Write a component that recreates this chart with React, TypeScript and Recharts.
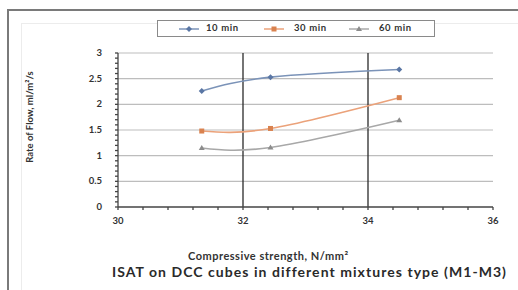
import React from 'react';
import { LineChart, Line, XAxis, YAxis, ReferenceLine, Label } from 'recharts';

const strength = [31.34, 32.44, 34.5];
const flow10 = [2.26, 2.53, 2.68];
const flow30 = [1.48, 1.53, 2.13];
const flow60 = [1.15, 1.16, 1.69];

const xTicks = [30, 30.4, 30.8, 31.2, 31.6, 32, 32.4, 32.8, 33.2, 33.6, 34, 34.4, 34.8, 35.2, 35.6, 36];
const xLabels = [30, 32, 34, 36];
const yTicks = [0, 0.1, 0.2, 0.3, 0.4, 0.5, 0.6, 0.7, 0.8, 0.9, 1, 1.1, 1.2, 1.3, 1.4, 1.5, 1.6, 1.7, 1.8, 1.9, 2, 2.1, 2.2, 2.3, 2.4, 2.5, 2.6, 2.7, 2.8, 2.9, 3];
const yLabels = [0, 0.5, 1, 1.5, 2, 2.5, 3];
const yGrid = [0.5, 1, 1.5, 2, 2.5, 3];
const xGrid = [32, 34];

const seriesNames = ['10 min', '30 min', '60 min'];
const lineColors = ['#7b93b8', '#eba27a', '#a8a8a8'];
const markColors = ['#5a76a4', '#d9824f', '#8c8c8c'];

const data = strength.map((x, i) => ({ x, s10: flow10[i], s30: flow30[i], s60: flow60[i] }));

const FONT = 'Lato, "DejaVu Sans", sans-serif';

const Diamond = (p: any) => {
  const { cx, cy, color } = p;
  if (cx == null || cy == null) return null;
  return <path d={`M${cx},${cy - 3}L${cx + 3},${cy}L${cx},${cy + 3}L${cx - 3},${cy}Z`} fill={color} />;
};
const Square = (p: any) => {
  const { cx, cy, color } = p;
  if (cx == null || cy == null) return null;
  return <rect x={cx - 2.5} y={cy - 2.5} width={5} height={5} fill={color} />;
};
const Triangle = (p: any) => {
  const { cx, cy, color } = p;
  if (cx == null || cy == null) return null;
  return <path d={`M${cx},${cy - 3}L${cx + 3},${cy + 2}L${cx - 3},${cy + 2}Z`} fill={color} />;
};
const shapes = [Diamond, Square, Triangle];

const XTick = (p: any) => {
  const { x, y, payload } = p;
  if (!xLabels.includes(payload.value)) return null;
  return (
    <text x={x} y={y + 12} textAnchor="middle" fontSize={9.5} fontWeight="bold" fill="#333" fontFamily={FONT}>
      {payload.value}
    </text>
  );
};
const YTick = (p: any) => {
  const { x, y, payload } = p;
  if (!yLabels.includes(payload.value)) return null;
  return (
    <text x={x - 11} y={y + 3} textAnchor="end" fontSize={9.5} fontWeight="bold" fill="#333" fontFamily={FONT}>
      {payload.value}
    </text>
  );
};

const legendSwatchX = [21, 106, 191];
const legendTextX = [48, 136, 221];

const LegendBox = () => (
  <div
    style={{
      position: 'absolute',
      left: 157,
      top: 20,
      width: 276,
      height: 15,
      border: '1px solid #8a8a8a',
      fontFamily: FONT,
      fontSize: 9.5,
      fontWeight: 'bold',
      color: '#333',
      background: '#fff',
    }}
  >
    {seriesNames.map((n, i) => (
      <React.Fragment key={n}>
        <svg width={20} height={8} style={{ position: 'absolute', left: legendSwatchX[i], top: 4 }}>
          <line x1={0} y1={4} x2={20} y2={4} stroke={lineColors[i]} strokeWidth={1.5} />
          {React.createElement(shapes[i], { cx: 10, cy: 4, color: markColors[i] })}
        </svg>
        <span style={{ position: 'absolute', left: legendTextX[i], top: 1, letterSpacing: 0.6, whiteSpace: 'nowrap' }}>{n}</span>
      </React.Fragment>
    ))}
  </div>
);

export default function App() {
  const keys = ['s10', 's30', 's60'];
  return (
    <div style={{ position: 'absolute', left: 0, top: 0, width: 518, height: 290, background: '#fff', overflow: 'hidden' }}>
      <div
        style={{
          position: 'absolute',
          left: 7,
          top: 9,
          width: 520,
          height: 290,
          borderLeft: '2px solid #7a7a7a',
          borderTop: '2px solid #7a7a7a',
        }}
      />
      <div
        style={{
          position: 'absolute',
          left: 21,
          top: 23,
          width: 520,
          height: 290,
          borderLeft: '1px solid #ececec',
          borderTop: '1px solid #ececec',
        }}
      />
      <div style={{ position: 'absolute', left: 0, top: 0 }}>
        <LineChart width={518} height={290} data={data} margin={{ top: 53, right: 25, bottom: 63, left: 88 }}>
          {yGrid.map((v) => (
            <ReferenceLine
              key={'y' + v}
              y={v}
              stroke="#bdbdbd"
              strokeWidth={1.2}
              ifOverflow="visible"
              segment={[{ x: 30, y: v }, { x: 36, y: v }]}
            />
          ))}
          {xGrid.map((v) => (
            <ReferenceLine key={'x' + v} x={v} stroke="#2a2a2a" strokeWidth={1.3} />
          ))}
          <XAxis
            type="number"
            dataKey="x"
            domain={[30, 36]}
            ticks={xTicks}
            interval={0}
            tick={<XTick />}
            tickSize={3}
            stroke="#444"
            strokeWidth={1.3}
            height={20}
          />
          <YAxis
            type="number"
            domain={[0, 3]}
            ticks={yTicks}
            interval={0}
            tick={<YTick />}
            tickSize={3}
            stroke="#444"
            strokeWidth={1.3}
            width={30}
          >
            <Label
              value="Rate of Flow, ml/m²/s"
              angle={-90}
              position="left"
              offset={58}
              dy={-13}
              fontSize={9.5}
              fontWeight="bold"
              fill="#333"
              fontFamily={FONT}
              style={{ textAnchor: 'middle' }}
            />
          </YAxis>
          {keys.map((k, i) => (
            <Line
              key={k}
              dataKey={k}
              name={seriesNames[i]}
              type="natural"
              stroke={lineColors[i]}
              strokeWidth={1.6}
              dot={(p: any) => React.createElement(shapes[i], { key: k + p.index, cx: p.cx, cy: p.cy, color: markColors[i] })}
              activeDot={false}
              isAnimationActive={false}
            />
          ))}
        </LineChart>
      </div>
      <LegendBox />
      <div
        style={{
          position: 'absolute',
          left: 188,
          top: 249,
          fontFamily: FONT,
          fontSize: 11,
          fontWeight: 'bold',
          letterSpacing: 0.5,
          color: '#333',
          whiteSpace: 'nowrap',
        }}
      >
        Compressive strength, N/mm²
      </div>
      <div
        style={{
          position: 'absolute',
          left: 112,
          top: 263,
          fontFamily: FONT,
          fontSize: 14,
          fontWeight: 'bold',
          letterSpacing: 1.05,
          color: '#2a2a2a',
          whiteSpace: 'nowrap',
        }}
      >
        ISAT on DCC cubes in different mixtures type (M1-M3)
      </div>
    </div>
  );
}
